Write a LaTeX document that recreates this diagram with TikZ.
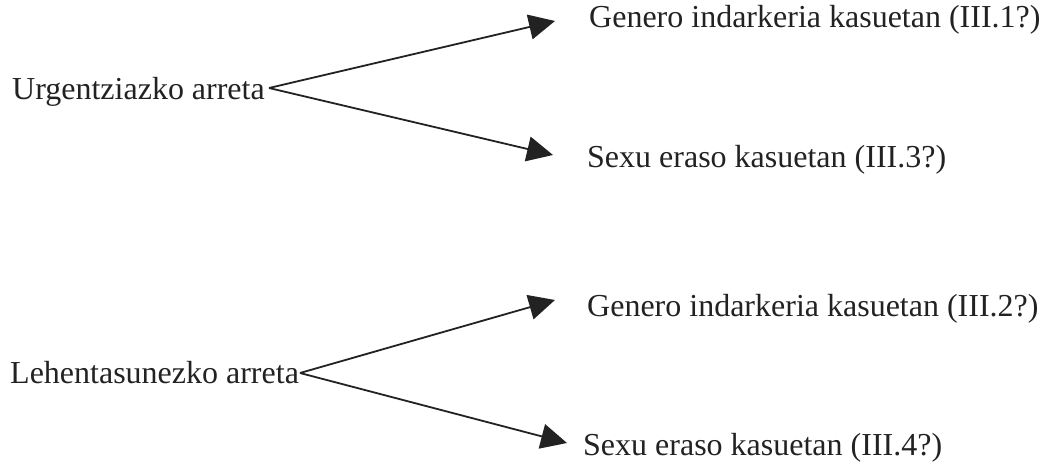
\documentclass[tikz,border=0pt]{standalone}
\usepackage{fontspec}
\setmainfont{Liberation Serif}
\usetikzlibrary{arrows.meta}
\definecolor{ink}{HTML}{222222}
\begin{document}
\begin{tikzpicture}[x=1pt,y=-1pt,
  lbl/.style={anchor=base west,inner sep=0pt,text=ink,font=\fontsize{32}{38}\selectfont},
  arr/.style={draw=ink,line width=1.8pt,-{Triangle[length=26pt,width=25pt]}}]
\useasboundingbox (0,0) rectangle (1042,470);
\node[lbl] (u) at (12,100) {Urgentziazko arreta};
\node[lbl] (l) at (10,384) {Lehentasunezko arreta};
\node[lbl] (g1) at (589,28) {Genero indarkeria kasuetan (III.1?)};
\node[lbl] (s1) at (587,168) {Sexu eraso kasuetan (III.3?)};
\node[lbl] (g2) at (587,317) {Genero indarkeria kasuetan (III.2?)};
\node[lbl] (s2) at (583,455) {Sexu eraso kasuetan (III.4?)};
\coordinate (uo) at (269,88);
\coordinate (lo) at (300,373);
\coordinate (t1) at (555,21);
\coordinate (t2) at (553,155);
\coordinate (t3) at (555,300);
\coordinate (t4) at (567,443);
\draw[arr] (uo) -- (t1);
\draw[arr] (uo) -- (t2);
\draw[arr] (lo) -- (t3);
\draw[arr] (lo) -- (t4);
\end{tikzpicture}
\end{document}
